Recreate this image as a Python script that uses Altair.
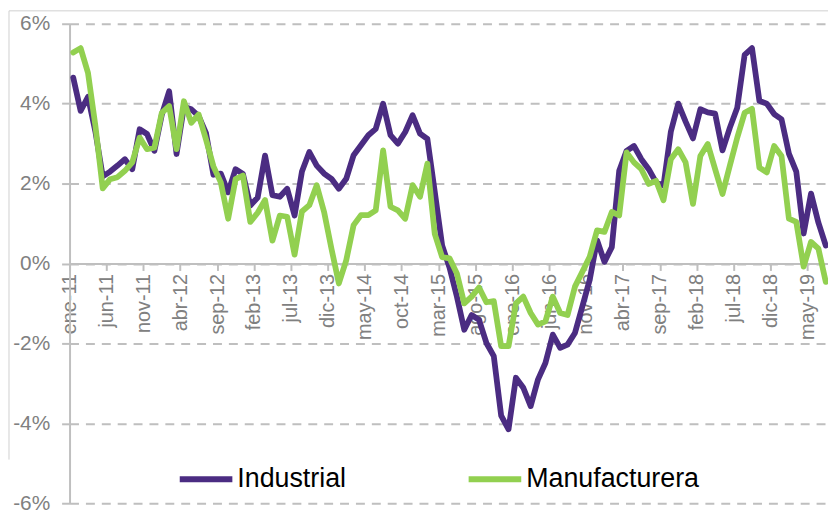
import altair as alt
import pandas as pd

# Monthly year-on-year growth (%), ene-11 .. jul-19
industrial = [4.65, 3.82, 4.17, 3.3, 2.18, 2.3, 2.45, 2.61, 2.36, 3.36,
              3.24, 2.82, 3.72, 4.31, 2.74, 3.92, 3.86, 3.69, 3.26, 2.22,
              2.25, 1.78, 2.36, 2.24, 1.45, 1.65, 2.7, 1.71, 1.67, 1.87,
              1.2, 2.3, 2.79, 2.45, 2.25, 2.12, 1.87, 2.12, 2.71, 2.96,
              3.21, 3.37, 4.0, 3.21, 3.0, 3.29, 3.71, 3.25, 3.12, 1.8,
              0.45, -0.1, -0.83, -1.66, -1.29, -1.41, -1.99, -2.32, -3.81, -4.15,
              -2.86, -3.11, -3.57, -2.9, -2.49, -1.78, -2.11, -2.03, -1.74, -1.08,
              -0.41, 0.58, 0.04, 0.41, 2.32, 2.82, 2.94, 2.61, 2.36, 2.03,
              1.95, 3.3, 4.0, 3.55, 3.13, 3.86, 3.78, 3.75, 2.83, 3.4,
              3.9, 5.22, 5.39, 4.07, 4.0, 3.74, 3.61, 2.75, 2.3, 0.75,
              1.75, 1.02, 0.45]
manufacturera = [5.28, 5.39, 4.77, 3.45, 1.88, 2.11, 2.16, 2.32, 2.53, 3.15,
                 2.86, 2.9, 3.77, 3.94, 2.86, 4.06, 3.52, 3.73, 3.1, 2.43,
                 2.03, 1.12, 2.11, 2.2, 1.04, 1.27, 1.59, 0.57, 1.2, 1.17,
                 0.22, 1.3, 1.46, 1.96, 1.29, 0.37, -0.5, 0.08, 0.96, 1.21,
                 1.21, 1.33, 2.83, 1.42, 1.33, 1.12, 1.96, 1.67, 2.5, 0.74,
                 0.16, 0.13, -0.25, -1.0, -0.83, -0.6, -0.97, -0.94, -2.07, -2.07,
                 -1.0, -0.83, -1.24, -1.53, -1.45, -0.83, -1.24, -1.29, -0.58, -0.21,
                 0.17, 0.83, 0.79, 1.29, 1.2, 2.78, 2.53, 2.36, 1.99, 2.07,
                 1.58, 2.61, 2.86, 2.53, 1.49, 2.69, 2.99, 2.36, 1.74, 2.45,
                 3.15, 3.77, 3.87, 2.4, 2.28, 2.94, 2.69, 1.12, 1.04, -0.08,
                 0.54, 0.37, -0.46]
tick_labels = ["ene-11", "jun-11", "nov-11", "abr-12", "sep-12", "feb-13", "jul-13",
               "dic-13", "may-14", "oct-14", "mar-15", "ago-15", "ene-16", "jun-16",
               "nov-16", "abr-17", "sep-17", "feb-18", "jul-18", "dic-18", "may-19"]
y_ticks = [-6, -4, -2, 0, 2, 4, 6]
series_names = ["Industrial", "Manufacturera"]
series_colors = ["#4B2C82", "#92D050"]

n = len(industrial)
df = pd.DataFrame({
    "i": list(range(n)) * 2,
    "serie": [series_names[0]] * n + [series_names[1]] * n,
    "valor": industrial + manufacturera,
})

FONT = "Liberation Sans Narrow, Arial Narrow, Liberation Sans, Arial, sans-serif"
GRAY = "#BFBFBF"

tick_vals = [5 * k - 0.5 for k in range(len(tick_labels))]
label_expr = ("[" + ",".join(f"'{t}'" for t in tick_labels) +
              "][round((datum.value + 0.5) / 5)]")

W, H = 764, 483

lines = alt.Chart(df).mark_line(
    strokeWidth=5.8, strokeCap="round", strokeJoin="round"
).encode(
    x=alt.X("i:Q",
            scale=alt.Scale(domain=[-0.5, 102.3], nice=False, zero=False),
            axis=alt.Axis(values=tick_vals, labelExpr=label_expr, labelAngle=-90,
                          offset=-(H / 2), title=None, grid=False,
                          domainColor=GRAY, domainWidth=2, tickColor=GRAY,
                          tickWidth=2, tickSize=7, labelPadding=3,
                          labelFont=FONT, labelFontSize=20, labelColor="#808080",
                          labelFlush=False, labelOverlap=False, labelBound=False)),
    y=alt.Y("valor:Q",
            scale=alt.Scale(domain=[-6, 6], nice=False),
            axis=alt.Axis(values=y_ticks, labelExpr="datum.value + '%'", title=None,
                          grid=True, gridDash=[9, 7], gridColor=GRAY, gridWidth=2,
                          domainColor=GRAY, domainWidth=2, tickColor=GRAY,
                          tickWidth=2, tickSize=8, labelPadding=12,
                          labelFont=FONT, labelFontSize=21, labelColor="#808080",
                          labelFlush=False)),
    color=alt.Color("serie:N",
                    scale=alt.Scale(domain=series_names, range=series_colors),
                    legend=alt.Legend(title=None, orient="none", legendX=108,
                                      legendY=429, direction="horizontal",
                                      symbolType="stroke", symbolSize=2809,
                                      symbolStrokeWidth=6, labelFont=FONT,
                                      labelFontSize=27, labelColor="black",
                                      labelOffset=2, columnPadding=111,
                                      labelLimit=0)),
)

frame_df = alt.Data(values=[{"k": 1}])
frame_left = alt.Chart(frame_df).mark_rule(color="#D0D0D0", strokeWidth=1).encode(
    x=alt.value(-61), y=alt.value(-13), y2=alt.value(439))
frame_top = alt.Chart(frame_df).mark_rule(color="#D0D0D0", strokeWidth=1).encode(
    x=alt.value(-61), x2=alt.value(W + 4), y=alt.value(-13))

chart = alt.layer(frame_left, frame_top, lines).properties(
    width=W, height=H,
    autosize=alt.AutoSizeParams(type="none"),
    padding={"left": 62, "top": 14, "right": 0, "bottom": 9},
).configure_view(stroke=None)

chart.save("out.html", embed_options={"renderer": "svg", "actions": False})
